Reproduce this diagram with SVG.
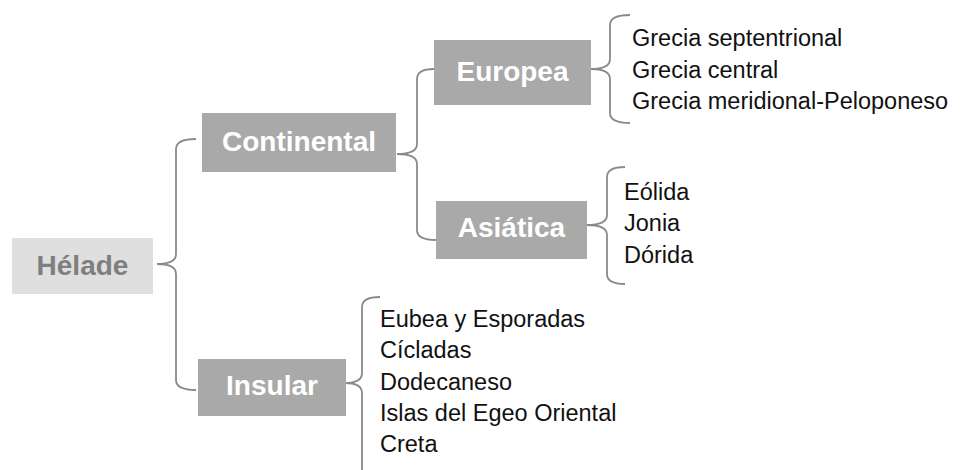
<svg xmlns="http://www.w3.org/2000/svg" width="960" height="470" viewBox="0 0 960 470">
  <style>
    .box { fill: #a9a9a9; }
    .root { fill: #dfdfdf; }
    .lbl { font-family: "Liberation Sans", Arial, sans-serif; font-weight: bold; font-size: 28px; fill: #ffffff; text-anchor: middle; }
    .rootlbl { fill: #7f7f7f; }
    .item { font-family: "Liberation Sans", Arial, sans-serif; font-size: 23.5px; fill: #111111; }
    .brace { fill: none; stroke: #8a8a8a; stroke-width: 1.8; }
  </style>
  <rect width="960" height="470" fill="#ffffff"/>

  <g id="connectors">
    <path class="brace" d="M196,139 Q176,139 176,149 L176,254 Q176,264 157,264 Q176,264 176,274 L176,380 Q176,390 196,390"/>
    <path class="brace" d="M434,69 Q417,69 417,79 L417,144 Q417,154 397,154 Q417,154 417,164 L417,230 Q417,240 436,240"/>
    <path class="brace" d="M630,15 Q610,15 610,25 L610,59 Q610,69 591,69 Q610,69 610,79 L610,113 Q610,123 630,123"/>
    <path class="brace" d="M625,167 Q607,167 607,177 L607,215 Q607,225 587,225 Q607,225 607,235 L607,274 Q607,284 625,284"/>
    <path class="brace" d="M380,297 Q362,297 362,307 L362,373 Q362,383 345,383 Q362,383 362,393 L362,480"/>
  </g>

  <g id="helade">
    <rect class="root" x="12" y="238" width="141" height="56"/>
    <text class="lbl rootlbl" x="82.5" y="275">Hélade</text>
  </g>

  <g id="continental">
    <rect class="box" x="202" y="113" width="194" height="59"/>
    <text class="lbl" x="299" y="151">Continental</text>
  </g>

  <g id="insular">
    <rect class="box" x="198" y="359" width="148" height="57"/>
    <text class="lbl" x="272" y="395">Insular</text>
  </g>

  <g id="europea">
    <rect class="box" x="434" y="40" width="157" height="65"/>
    <text class="lbl" x="512.5" y="81">Europea</text>
  </g>

  <g id="asiatica">
    <rect class="box" x="436" y="201" width="151" height="58"/>
    <text class="lbl" x="511.5" y="237">Asiática</text>
  </g>

  <g id="europea-list">
    <text class="item" x="632" y="46">Grecia septentrional</text>
    <text class="item" x="632" y="77.5">Grecia central</text>
    <text class="item" x="632" y="109">Grecia meridional-Peloponeso</text>
  </g>

  <g id="asiatica-list">
    <text class="item" x="624" y="199.5">Eólida</text>
    <text class="item" x="624" y="231">Jonia</text>
    <text class="item" x="624" y="262.5">Dórida</text>
  </g>

  <g id="insular-list">
    <text class="item" x="380" y="326.5">Eubea y Esporadas</text>
    <text class="item" x="380" y="358">Cícladas</text>
    <text class="item" x="380" y="389.5">Dodecaneso</text>
    <text class="item" x="380" y="420.5">Islas del Egeo Oriental</text>
    <text class="item" x="380" y="451.5">Creta</text>
  </g>
</svg>
